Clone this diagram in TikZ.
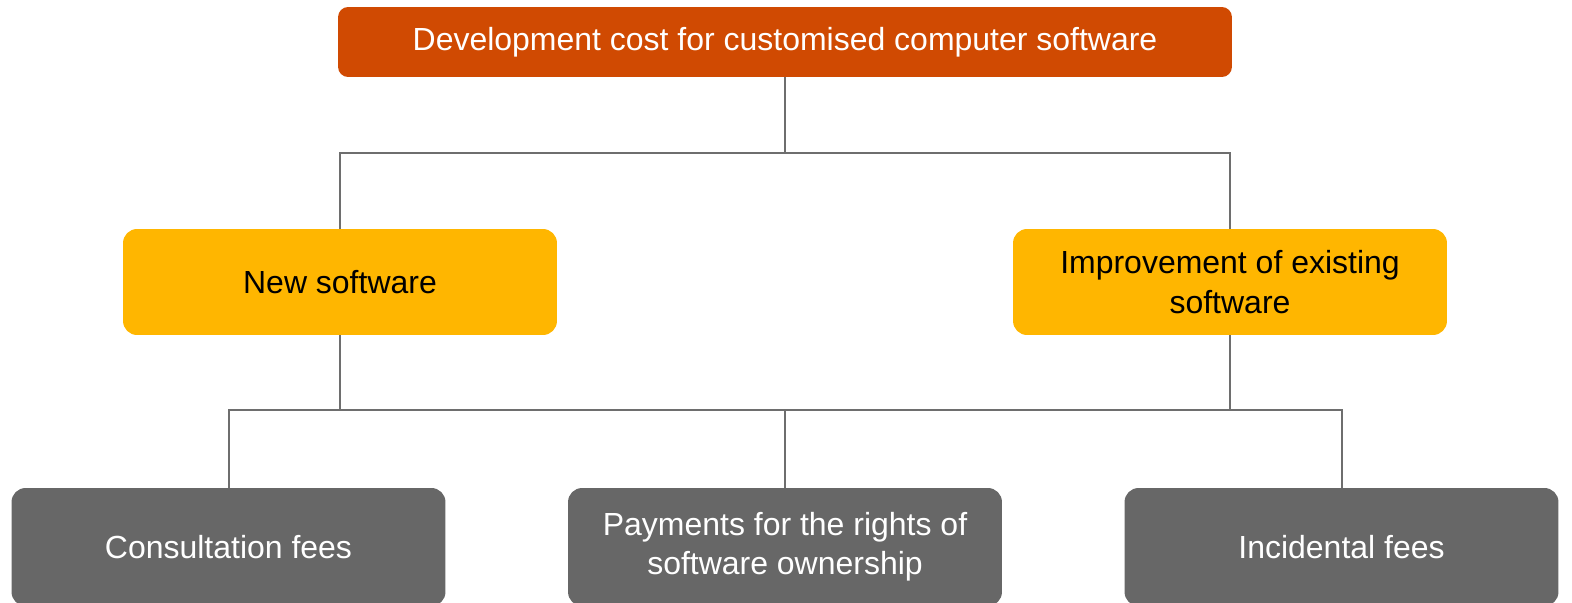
\documentclass[tikz,border=0pt]{standalone}
\usepackage{fontspec}
\setmainfont{Liberation Sans}
\usepackage{tikz}

\definecolor{rootorange}{HTML}{D04A02}
\definecolor{midyellow}{HTML}{FFB600}
\definecolor{leafgray}{HTML}{676767}
\definecolor{linkgray}{HTML}{6E6E6E}

\tikzset{
  rootbox/.style={fill=rootorange, text=white, rounded corners=0.2cm,
    minimum width=17.88cm, minimum height=1.4cm, inner sep=0pt},
  midbox/.style={fill=midyellow, text=black, rounded corners=0.28cm, align=center,
    minimum width=8.68cm, minimum height=2.12cm, inner sep=0pt},
  leafbox/.style={fill=leafgray, text=white, rounded corners=0.28cm, align=center,
    minimum width=8.68cm, minimum height=2.36cm, inner sep=0pt},
  link/.style={draw=linkgray, line width=0.04cm}
}

\begin{document}
\begin{tikzpicture}[x=0.02cm, y=-0.02cm, font=\fontsize{18.2}{22.3}\selectfont]
    \useasboundingbox (0,0) rectangle (1572,602);
    \clip (0,0) rectangle (1572,602);

    % top level
    \node[rootbox] (root) at (785,42) {Development cost for customised computer software};

    % second level
    \node[midbox] (newsw) at (340,282) {New software};
    \node[midbox] (impsw) at (1230,282) {Improvement of existing\\software};

    % third level, cut by the lower edge
    \node[leafbox] (cons) at (228.5,547) {Consultation fees};
    \node[leafbox] (pay) at (785,547) {Payments for the rights of\\software ownership};
    \node[leafbox] (incid) at (1341.5,547) {Incidental fees};

    % bus lines
    \coordinate (busA) at (785,153);
    \coordinate (busB) at (785,410);

    \draw[link] (root.south) -- (busA);
    \draw[link] (newsw.north) |- (busA) -| (impsw.north);

    \draw[link] (newsw.south) -- (newsw.south |- busB);
    \draw[link] (impsw.south) -- (impsw.south |- busB);
    \draw[link] (cons.north) |- (busB) -| (incid.north);
    \draw[link] (pay.north) -- (busB);
\end{tikzpicture}
\end{document}
